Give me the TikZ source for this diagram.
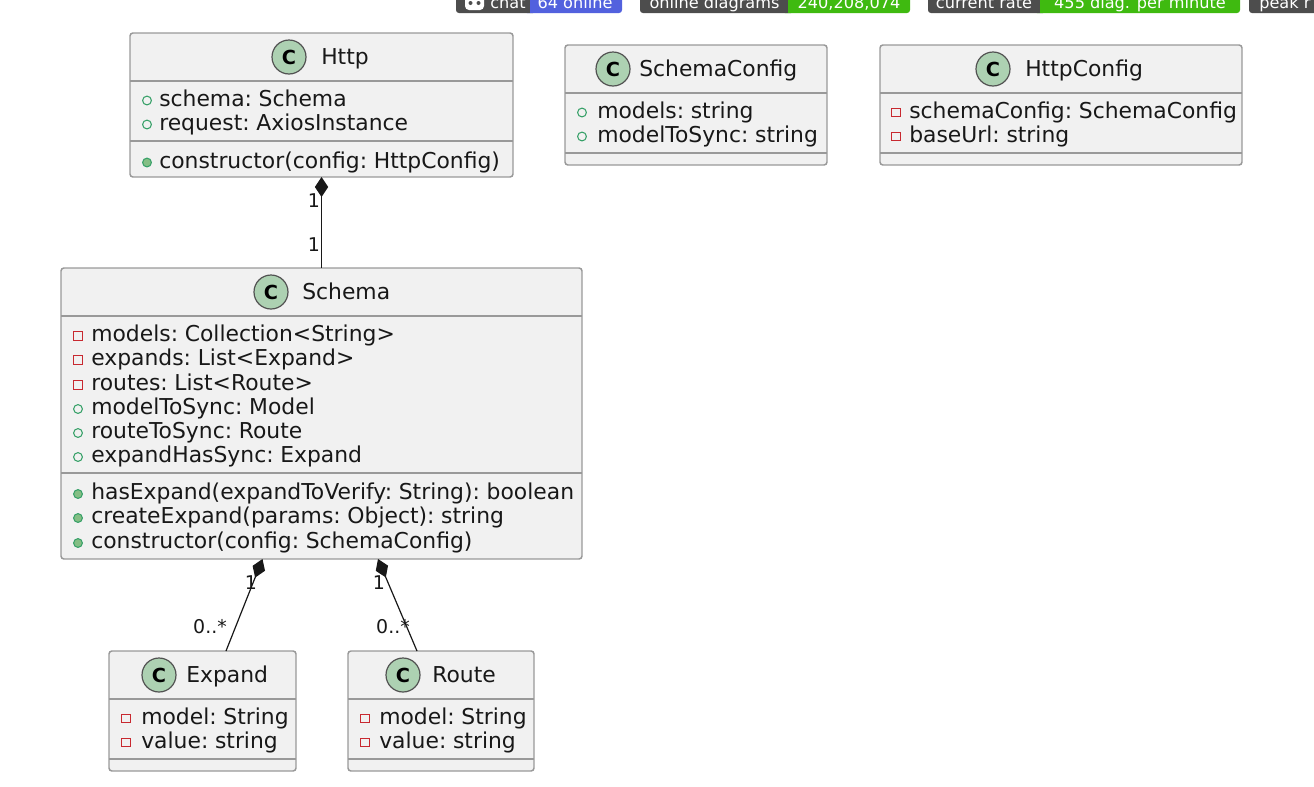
\documentclass[tikz,border=0pt]{standalone}
\usepackage{fontspec}
\setmainfont{DejaVu Sans}
\usepackage{xcolor}
\usetikzlibrary{positioning, arrows.meta, shapes.geometric, calc}
\definecolor{boxfill}{HTML}{F1F1F1}
\definecolor{boxline}{HTML}{999999}
\definecolor{inkdark}{HTML}{181818}
\definecolor{spotfill}{HTML}{ADD1B2}
\definecolor{fieldgreen}{HTML}{38A169}
\definecolor{methgreen}{HTML}{84BE84}
\definecolor{privred}{HTML}{C82930}
\definecolor{badgegray}{HTML}{4D4D4D}
\definecolor{badgeblue}{HTML}{5261DE}
\definecolor{badgegreen}{HTML}{3FBA10}

\begin{document}
\begin{tikzpicture}[
    x=0.75pt, y=-0.75pt,
    font=\fontsize{16.4pt}{20pt}\selectfont,
    umlbox/.style={rectangle, draw=boxline, fill=boxfill, line width=1.1pt, rounded corners=2.2pt, inner sep=0pt, outer sep=0pt},
    sepline/.style={draw=boxline, line width=1.1pt},
    spot/.style={circle, draw=inkdark!75, fill=spotfill, line width=0.9pt, minimum size=25.5pt, inner sep=0pt, font=\fontsize{14.5pt}{18pt}\selectfont\bfseries},
    title/.style={anchor=base west, inner sep=0pt, text=inkdark},
    member/.style={anchor=base west, inner sep=0pt, text=inkdark, execute at begin node={\spaceskip=.2em\relax}},
    pubfield/.style={circle, draw=fieldgreen, line width=0.8pt, minimum size=6.6pt, inner sep=0pt},
    pubmeth/.style={circle, draw=fieldgreen, fill=methgreen, line width=0.8pt, minimum size=6.6pt, inner sep=0pt},
    privfield/.style={rectangle, draw=privred, line width=0.8pt, minimum size=6.4pt, inner sep=0pt},
    comp/.style={{Diamond[length=15pt, width=10pt]}-, draw=inkdark, line width=0.9pt},
    mult/.style={inner sep=0pt, text=inkdark, font=\fontsize{14.2pt}{16pt}\selectfont},
    badgetext/.style={inner sep=0pt, anchor=base, text=white, font=\fontsize{12.1pt}{14pt}\selectfont}
]
\useasboundingbox (0,0) rectangle (1314,786);

% status badges along the top edge
\begin{scope}
\clip (0,0) rectangle (1314,786);
\foreach \xa/\xb/\xc/\col [count=\i] in {
    456/530/622/badgeblue,
    640/788/910/badgegreen,
    928/1040/1240/badgegreen,
    1249/1350/1400/badgegreen} {
  \fill[badgegray, rounded corners=2.2pt] (\xa,-10) rectangle (\xb+6,13);
  \fill[\col, rounded corners=2.2pt] (\xb-6,-10) rectangle (\xc,13);
  \fill[badgegray] (\xa+6,-10) rectangle (\xb,13);
}
\fill[white, rounded corners=3pt] (465,-6) rectangle (484,10);
\fill[badgegray] (470.5,3) circle (2) (478.5,3) circle (2);
\node[badgetext] (chatl) at (508,8) {chat};
\node[badgetext] (chatr) at (575,8) {64 online};
\node[badgetext] (onl) at (714.5,8) {online diagrams};
\node[badgetext] (onr) at (849,8) {240,208,074};
\node[badgetext] (ratel) at (984,8) {current rate};
\node[badgetext] (rater) at (1140,8) {455 diag. per minute};
\node[badgetext, anchor=base west] (peakl) at (1259,8) {peak r};
\end{scope}

% class boxes
\node[umlbox, minimum width=287.25pt, minimum height=108pt] (http) at (321.5,105) {};
\node[umlbox, minimum width=196.5pt, minimum height=90pt] (schemaconfig) at (696,105) {};
\node[umlbox, minimum width=271.5pt, minimum height=90pt] (httpconfig) at (1061,105) {};
\node[umlbox, minimum width=390.75pt, minimum height=218.25pt] (schema) at (321.5,413.5) {};
\node[umlbox, minimum width=140.25pt, minimum height=90pt] (expand) at (202.5,711) {};
\node[umlbox, minimum width=139.5pt, minimum height=90pt] (route) at (441,711) {};

\draw[sepline] (http.west |- 0,81) -- (http.east |- 0,81);
\draw[sepline] (http.west |- 0,141) -- (http.east |- 0,141);
\draw[sepline] (schemaconfig.west |- 0,93) -- (schemaconfig.east |- 0,93);
\draw[sepline] (schemaconfig.west |- 0,153) -- (schemaconfig.east |- 0,153);
\draw[sepline] (httpconfig.west |- 0,93) -- (httpconfig.east |- 0,93);
\draw[sepline] (httpconfig.west |- 0,153) -- (httpconfig.east |- 0,153);
\draw[sepline] (schema.west |- 0,316) -- (schema.east |- 0,316);
\draw[sepline] (schema.west |- 0,473) -- (schema.east |- 0,473);
\draw[sepline] (expand.west |- 0,699) -- (expand.east |- 0,699);
\draw[sepline] (expand.west |- 0,759) -- (expand.east |- 0,759);
\draw[sepline] (route.west |- 0,699) -- (route.east |- 0,699);
\draw[sepline] (route.west |- 0,759) -- (route.east |- 0,759);

% headers
\foreach \name/\cx/\cy/\tx/\txt in {
    http/289/57/321/Http,
    schemaconfig/613/69/639/SchemaConfig,
    httpconfig/993/69/1025/HttpConfig,
    schema/271/292/302/Schema,
    expand/159/675/186/Expand,
    route/403/675/432/Route} {
  \node[spot] (\name spot) at (\cx,\cy) {C};
  \node[title] (\name title) at (\tx,\cy+7) {\txt};
}

% members
\foreach \yy/\mk/\txt [count=\i] in {
    106/pubfield/schema: Schema,
    130/pubfield/request: AxiosInstance,
    168/pubmeth/constructor(config: HttpConfig)} {
  \node[\mk] (httpicon\i) at (147,\yy-5.5) {};
  \node[member] (httpline\i) at (159,\yy) {\txt};
}
\foreach \yy/\mk/\txt [count=\i] in {
    118/pubfield/models: string,
    142/pubfield/modelToSync: string} {
  \node[\mk] (scicon\i) at (582,\yy-5.5) {};
  \node[member] (scline\i) at (597,\yy) {\txt};
}
\foreach \yy/\mk/\txt [count=\i] in {
    118/privfield/schemaConfig: SchemaConfig,
    142/privfield/baseUrl: string} {
  \node[\mk] (hcicon\i) at (896,\yy-5.5) {};
  \node[member] (hcline\i) at (909,\yy) {\txt};
}
\foreach \yy/\mk/\txt [count=\i] in {
    341.5/privfield/models: Collection<String>,
    365.5/privfield/expands: List<Expand>,
    390.5/privfield/routes: List<Route>,
    414.5/pubfield/modelToSync: Model,
    438.5/pubfield/routeToSync: Route,
    462.5/pubfield/expandHasSync: Expand,
    499.5/pubmeth/hasExpand(expandToVerify: String): boolean,
    523.5/pubmeth/createExpand(params: Object): string,
    548.5/pubmeth/constructor(config: SchemaConfig)} {
  \node[\mk] (schemaicon\i) at (78,\yy-5.5) {};
  \node[member] (schemaline\i) at (91,\yy) {\txt};
}
\foreach \yy/\mk/\txt [count=\i] in {
    724/privfield/model: String,
    748/privfield/value: string} {
  \node[\mk] (expandicon\i) at (126,\yy-5.5) {};
  \node[member] (expandline\i) at (141,\yy) {\txt};
  \node[\mk] (routeicon\i) at (365,\yy-5.5) {};
  \node[member] (routeline\i) at (379,\yy) {\txt};
}

% connectors
\draw[comp] (http.south) -- (schema.north);
\draw[comp] ($(schema.south)+(-59,0)$) -- ($(expand.north)+(23.5,0)$);
\draw[comp] ($(schema.south)+(56.5,0)$) -- ($(route.north)+(-24,0)$);

\node[mult] (m1) at (314,201) {1};
\node[mult] (m2) at (314,245) {1};
\node[mult] (m3) at (251,583) {1};
\node[mult] (m4) at (210,627) {0..*};
\node[mult] (m5) at (379,583) {1};
\node[mult] (m6) at (393,627) {0..*};
\end{tikzpicture}
\end{document}
